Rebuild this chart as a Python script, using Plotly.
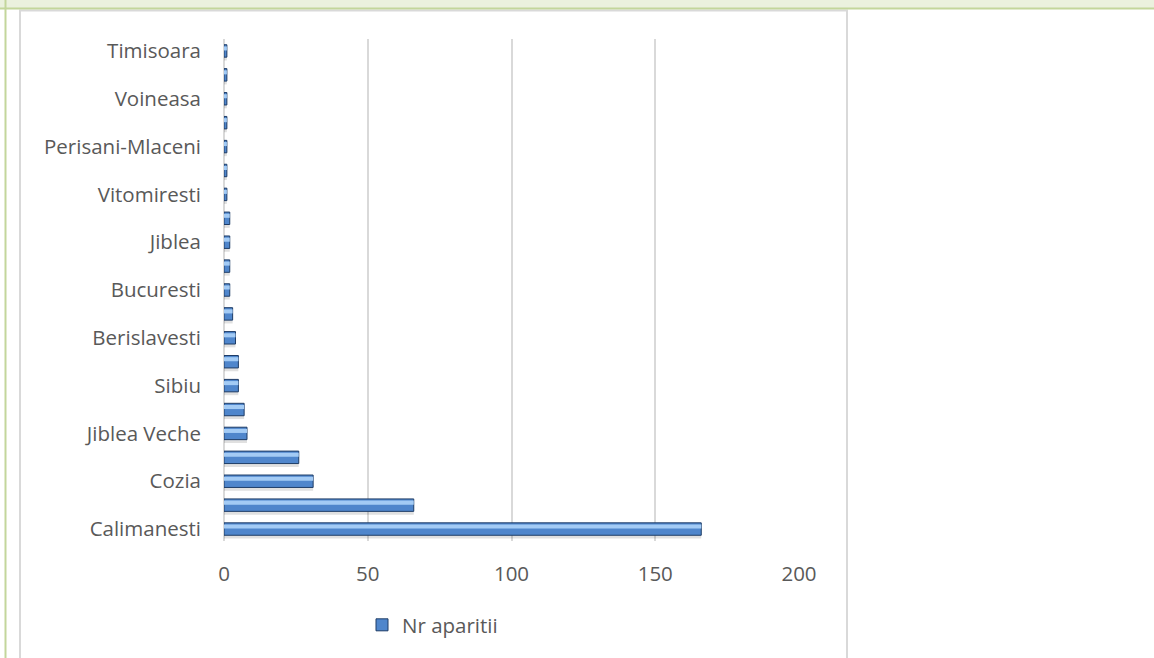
import plotly.graph_objects as go

# Localities, bottom to top; blank entries are rows whose names are not printed on the axis
localities = ["Calimanesti", "", "Cozia", "", "Jiblea Veche", "", "Sibiu", "",
              "Berislavesti", "", "Bucuresti", "", "Jiblea", "", "Vitomiresti", "",
              "Perisani-Mlaceni", "", "Voineasa", "", "Timisoara"]
nr_aparitii = [166, 66, 31, 26, 8, 7, 5, 5, 4, 3, 2, 2, 2, 2, 1, 1, 1, 1, 1, 1, 1]
x_ticks = [0, 50, 100, 150, 200]
series_name = "Nr aparitii"

rows = list(range(len(localities)))

W, H = 1154, 658
L, R, T, B = 224, 799, 39, 541  # plot area in pixels


def px_x(p):
    return (p - L) / (R - L)


def px_y(p):
    return (B - p) / (B - T)


FONT = "Open Sans"
TXT = "#595959"

fig = go.Figure()

# soft drop shadow under each bar
fig.add_trace(go.Bar(
    x=nr_aparitii, y=rows, orientation="h", width=0.52, offset=-0.4,
    marker=dict(color="rgba(0,0,0,0.12)", line=dict(width=0)),
    showlegend=False, hoverinfo="skip"))

# main bars
fig.add_trace(go.Bar(
    x=nr_aparitii, y=rows, orientation="h", width=0.52, offset=-0.26,
    name=series_name,
    marker=dict(color="#4F86CC", line=dict(color="#1E3C66", width=1))))

# bevel highlight along the upper part of each bar
fig.add_trace(go.Bar(
    x=nr_aparitii, y=rows, orientation="h", width=0.17, offset=0.02,
    marker=dict(color="#A3CBF5", line=dict(width=0)),
    showlegend=False, hoverinfo="skip"))

shapes = [
    # page band at top with green rule
    dict(type="rect", xref="paper", yref="paper",
         x0=px_x(0), x1=px_x(W), y0=px_y(0), y1=px_y(8.5),
         fillcolor="#EBF1DE", line=dict(width=0), layer="below"),
    dict(type="line", xref="paper", yref="paper",
         x0=px_x(0), x1=px_x(W), y0=px_y(8.5), y1=px_y(8.5),
         line=dict(color="#C3D69B", width=2)),
    # green rule down the left edge
    dict(type="line", xref="paper", yref="paper",
         x0=px_x(5.5), x1=px_x(5.5), y0=px_y(0), y1=px_y(H + 5),
         line=dict(color="#C3D69B", width=2)),
    # chart frame
    dict(type="rect", xref="paper", yref="paper",
         x0=px_x(20), x1=px_x(847), y0=px_y(10.5), y1=px_y(H + 20),
         line=dict(color="#D9D9D9", width=2), fillcolor="rgba(0,0,0,0)",
         layer="below"),
]

fig.update_layout(
    width=W, height=H,
    margin=dict(l=L, r=W - R, t=T, b=H - B, autoexpand=False),
    paper_bgcolor="white", plot_bgcolor="white",
    barmode="overlay",
    font=dict(family=FONT, size=20.5, color=TXT),
    shapes=shapes,
    showlegend=True,
    legend=dict(x=px_x(362), y=px_y(625), xanchor="left", yanchor="middle",
                orientation="h", font=dict(family=FONT, size=20.5, color=TXT),
                bgcolor="rgba(0,0,0,0)", itemwidth=30),
    xaxis=dict(range=[0, 200], tickvals=x_ticks, showgrid=True,
               gridcolor="#D9D9D9", gridwidth=2, zeroline=True,
               zerolinecolor="#D9D9D9", zerolinewidth=2, showline=False,
               ticks="", ticklabelstandoff=18, fixedrange=True),
    yaxis=dict(range=[-0.5, len(localities) - 0.5], tickvals=rows,
               ticktext=localities, showgrid=False, zeroline=False,
               showline=False, ticks="", ticklabelstandoff=22, fixedrange=True),
)

fig.write_html("out.html")
